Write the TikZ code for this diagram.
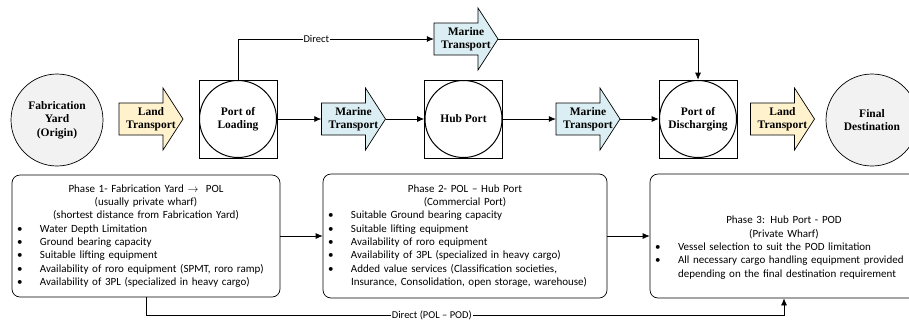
\documentclass[tikz,border=0pt]{standalone}
\usepackage{fontspec}
\setmainfont{Liberation Serif}
\newfontfamily\boxfont{Carlito}
\usetikzlibrary{arrows.meta}
\definecolor{landfill}{HTML}{FFF2CC}
\definecolor{seafill}{HTML}{DAEEF3}
\definecolor{endfill}{HTML}{F2F2F2}
\newcommand{\bul}[1]{\par\noindent\makebox[23pt][l]{\textbullet}\mbox{#1}}
\newcommand{\cont}[1]{\par\noindent\hspace*{23pt}\mbox{#1}}
\tikzset{
  link/.style={line width=0.7pt,-{Latex[length=7pt,width=6pt]}},
  bold/.style={font=\fontsize{11.5}{13.5}\selectfont\bfseries,align=center},
  endpoint/.style={bold,circle,draw,line width=0.7pt,fill=endfill,minimum size=92,inner sep=0pt},
  port/.style={bold,rectangle,draw,line width=0.7pt,minimum size=78,inner sep=0pt,
    path picture={\draw[line width=1pt] (path picture bounding box.center) circle (38.5pt);}},
  mode/.style={bold,minimum width=64,minimum height=32,inner sep=0pt},
  phase/.style={draw,line width=0.7pt,rounded corners=8pt,inner xsep=5pt,inner ysep=0pt,
    text width=258,align=left,font=\boxfont\fontsize{11}{13.3}\selectfont},
  tag/.style={fill=white,inner sep=1pt,font=\boxfont\fontsize{10.5}{12}\selectfont}
}
\begin{document}
\begin{tikzpicture}[x=1pt,y=-1pt]
  \useasboundingbox (0,0) rectangle (909,333);
  % end points and ports
  \node[endpoint] (fab) at (57,120) {Fabrication\\Yard\\(Origin)};
  \node[port] (pol) at (238,119) {Port of\\Loading};
  \node[port] (hub) at (463.5,119) {Hub Port};
  \node[port] (pod) at (698,119) {Port of\\Discharging};
  \node[endpoint] (final) at (872,120) {Final\\Destination};
  % transport arrows
  \foreach \nm/\cx/\cy/\col/\txt in {land1/151/119/landfill/{Land\\Transport},
      sea1/353.5/119/seafill/{Marine\\Transport},
      sea2/466/39/seafill/{Marine\\Transport},
      sea3/588/119/seafill/{Marine\\Transport},
      land2/782.5/119/landfill/{Land\\Transport}} {
    \draw[line width=0.7pt,fill=\col] (\cx-32,\cy-16) -- (\cx+12,\cy-16) -- (\cx+12,\cy-31)
      -- (\cx+32,\cy) -- (\cx+12,\cy+31) -- (\cx+12,\cy+16) -- (\cx-32,\cy+16) -- cycle;
    \node[mode] (\nm) at (\cx,\cy) {\txt};
  }
  \draw[link] (pol.east) -- (sea1.west);
  \draw[link] (sea1.east) -- (hub.west);
  \draw[link] (hub.east) -- (sea3.west);
  \draw[link] (sea3.east) -- (pod.west);
  \draw[link] (pol.north) |- node[tag,pos=0.7] {Direct} (sea2.west);
  \draw[link] (sea2.east) -| (pod.north);
  % phase boxes
  \node[phase,minimum width=268,minimum height=122] (ph1) at (146,236) {%
    {\centering Phase 1- Fabrication Yard $\rightarrow$\ \ POL\\
    (usually private wharf)\\
    (shortest distance from Fabrication Yard)\par}
    \bul{Water Depth Limitation}
    \bul{Ground bearing capacity}
    \bul{Suitable lifting equipment}
    \bul{Availability of roro equipment (SPMT, roro ramp)}
    \bul{Availability of 3PL (specialized in heavy cargo)}};
  \node[phase,minimum width=284,minimum height=124,text width=274] (ph2) at (465,236) {%
    {\centering Phase 2- POL – Hub Port\\
    (Commercial Port)\par}
    \bul{Suitable Ground bearing capacity}
    \bul{Suitable lifting equipment}
    \bul{Availability of roro equipment}
    \bul{Availability of 3PL (specialized in heavy cargo)}
    \bul{Added value services (Classification societies,}
    \cont{Insurance, Consolidation, open storage, warehouse)}};
  \node[phase,minimum width=268,minimum height=124] (ph3) at (784,236) {%
    {\centering \rule{0pt}{31pt}Phase 3: Hub Port - POD\\
    (Private Wharf)\par}
    \bul{Vessel selection to suit the POD limitation}
    \bul{All necessary cargo handling equipment provided}
    \cont{depending on the final destination requirement}};
  \draw[link] (ph1.east) -- (ph2.west);
  \draw[link] (ph2.east) -- (ph3.west);
  \draw[link] (ph1.south) -- ++(0,18) -| node[tag,pos=0.224] {Direct (POL – POD)} (ph3.south);
\end{tikzpicture}
\end{document}
